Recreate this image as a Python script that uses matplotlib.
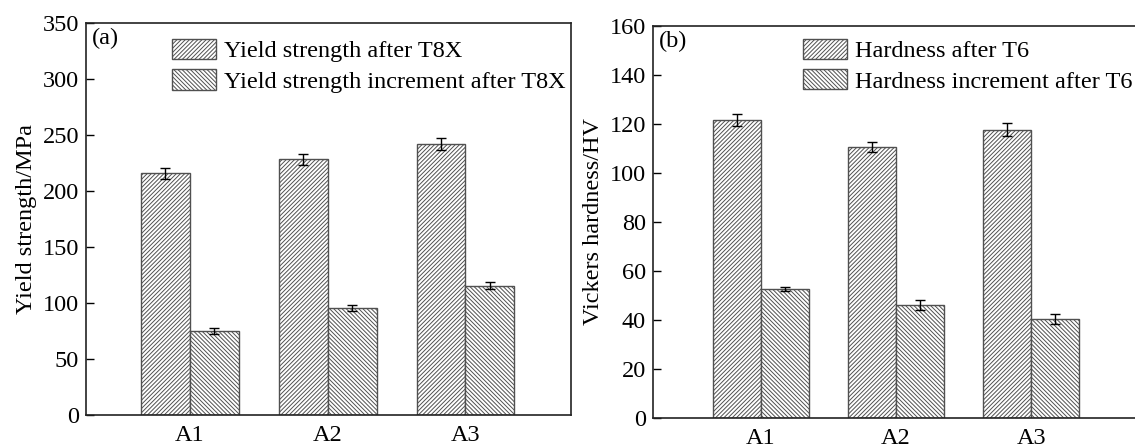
import numpy as np
import matplotlib
matplotlib.use('Agg')
from matplotlib import pyplot as plt

plt.rcParams['font.family'] = 'Liberation Serif'
plt.rcParams['hatch.linewidth'] = 0.7

alloys = ['A1', 'A2', 'A3']

# yield strength (MPa)
ys_t8x = [215.7, 228.2, 242.0]
ys_t8x_err = [4.6, 4.6, 5.0]
ys_inc = [75.1, 95.3, 115.6]
ys_inc_err = [2.4, 2.5, 2.7]

# Vickers hardness (HV)
hv_t6 = [121.6, 110.6, 117.7]
hv_t6_err = [2.4, 2.1, 2.8]
hv_inc = [52.6, 46.1, 40.4]
hv_inc_err = [0.9, 2.2, 2.1]

fs = 17.5
w = 0.355
x = np.arange(1, len(alloys) + 1)

fig = plt.figure(figsize=(11.35, 4.47), dpi=100)
ax1 = fig.add_axes([0.0758, 0.0716, 0.4273, 0.877])
ax2 = fig.add_axes([0.5753, 0.0649, 0.4273, 0.877])


def panel(ax, v1, e1, v2, e2, lab1, lab2, ylab, tag, ymax, ystep, xlim, leg_pos):
    ax.bar(x - w/2, v1, w, color='white', edgecolor='#505050', hatch='////////',
           linewidth=1.0, label=lab1)
    ax.bar(x + w/2, v2, w, color='white', edgecolor='#505050', hatch='\\\\\\\\\\\\\\\\',
           linewidth=1.0, label=lab2)
    ax.errorbar(x - w/2, v1, yerr=e1, fmt='none', ecolor='black', elinewidth=1.0,
                capsize=3.5, capthick=1.0)
    ax.errorbar(x + w/2, v2, yerr=e2, fmt='none', ecolor='black', elinewidth=1.0,
                capsize=3.5, capthick=1.0)
    ax.set_xlim(*xlim)
    ax.set_ylim(0, ymax)
    ax.set_yticks(np.arange(0, ymax + 1, ystep))
    ax.set_xticks(x)
    ax.set_xticklabels(alloys)
    ax.tick_params(axis='y', direction='in', length=6, width=1.0, labelsize=fs, pad=5)
    ax.tick_params(axis='x', length=0, labelsize=fs, pad=7)
    ax.set_ylabel(ylab, fontsize=fs, labelpad=4)
    for s in ax.spines.values():
        s.set_linewidth(1.2)
        s.set_color('#222222')
    ax.text(0.012, 0.988, tag, transform=ax.transAxes, ha='left', va='top', fontsize=fs)
    ax.legend(loc='upper left', bbox_to_anchor=leg_pos, frameon=False, fontsize=fs,
              handlelength=1.8, handleheight=0.9, handletextpad=0.35,
              labelspacing=0.3, borderpad=0, borderaxespad=0)


panel(ax1, ys_t8x, ys_t8x_err, ys_inc, ys_inc_err,
      'Yield strength after T8X', 'Yield strength increment after T8X',
      'Yield strength/MPa', '(a)', 350, 50, (0.249, 3.765), (0.177, 0.96))
panel(ax2, hv_t6, hv_t6_err, hv_inc, hv_inc_err,
      'Hardness after T6', 'Hardness increment after T6',
      'Vickers hardness/HV', '(b)', 160, 20, (0.2, 3.79), (0.309, 0.968))

plt.savefig('out.png', dpi=100)
